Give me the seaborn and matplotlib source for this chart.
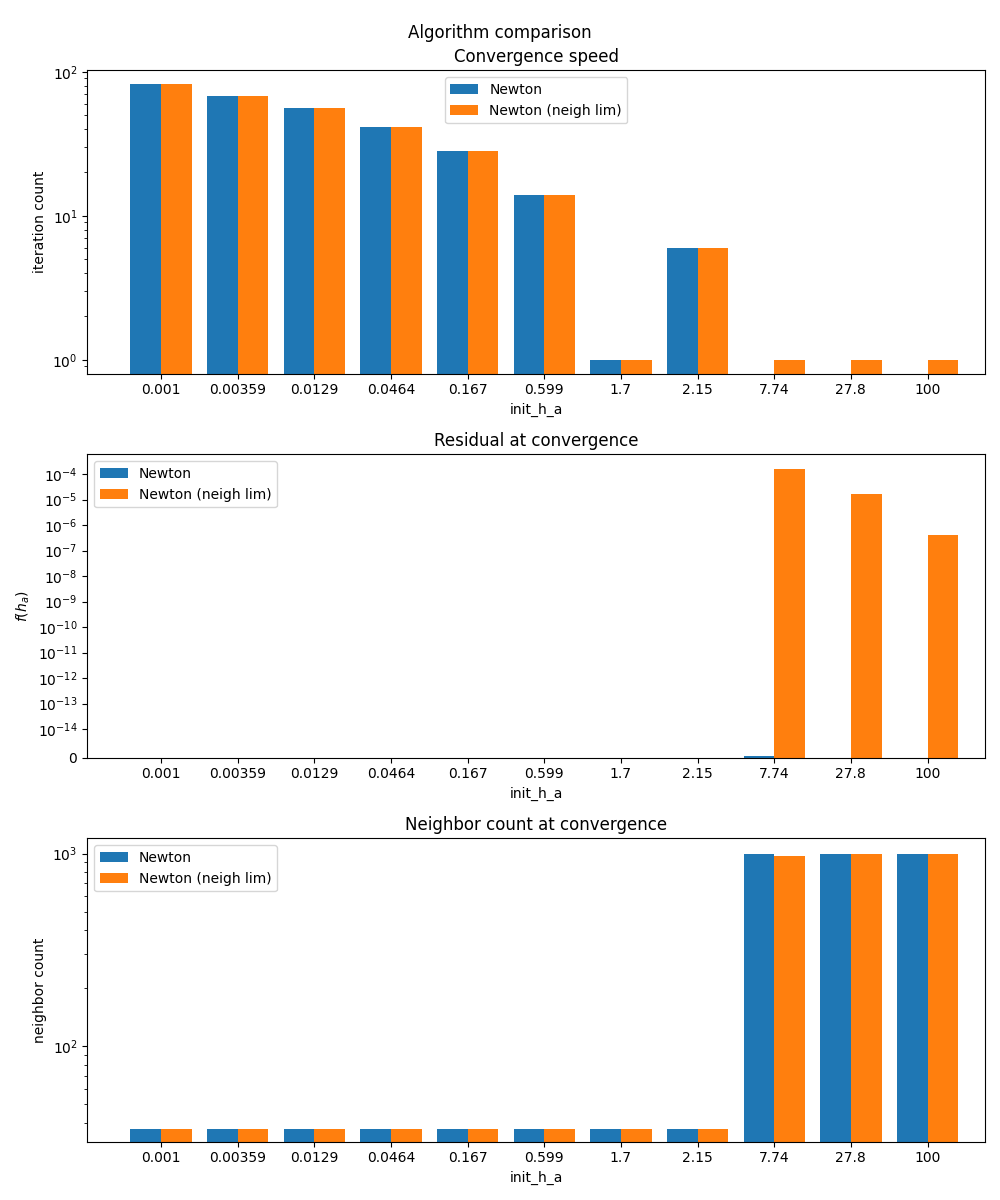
import pandas as pd
import seaborn as sns
import matplotlib.pyplot as plt

init_h_a = ['0.001', '0.00359', '0.0129', '0.0464', '0.167', '0.599', '1.7', '2.15', '7.74', '27.8', '100']
methods = ['Newton', 'Newton (neigh lim)']

iters_newton = [82, 68, 56, 41, 28, 14, 1, 6, 0, 0, 0]
iters_lim = [82, 68, 56, 41, 28, 14, 1, 6, 1, 1, 1]

resid_newton = [0, 0, 0, 0, 0, 0, 0, 0, 5e-16, 0, 0]
resid_lim = [0, 0, 0, 0, 0, 0, 0, 0, 1.6e-4, 1.6e-5, 4e-7]

neigh_newton = [37, 37, 37, 37, 37, 37, 37, 37, 1000, 1000, 1000]
neigh_lim = [37, 37, 37, 37, 37, 37, 37, 37, 975, 1000, 1000]


def long_df(a, b):
    return pd.DataFrame({
        'init_h_a': init_h_a * 2,
        'value': a + b,
        'method': [methods[0]] * len(a) + [methods[1]] * len(b),
    })


fig, axes = plt.subplots(3, 1, figsize=(10, 12))
fig.suptitle('Algorithm comparison')
pal = ['#1f77b4', '#ff7f0e']

ax = axes[0]
ax.set_yscale('log')
sns.barplot(long_df(iters_newton, iters_lim), x='init_h_a', y='value', hue='method',
            palette=pal, saturation=1, ax=ax)
ax.set_title('Convergence speed')
ax.set_ylabel('iteration count')
ax.legend(loc='upper center')

ax = axes[1]
ax.set_yscale('symlog', linthresh=1e-14)
sns.barplot(long_df(resid_newton, resid_lim), x='init_h_a', y='value', hue='method',
            palette=pal, saturation=1, ax=ax)
ax.set_yticks([0] + [10.0 ** e for e in range(-14, -3)])
ax.set_title('Residual at convergence')
ax.set_ylabel('$f(h_a)$')
ax.legend(loc='upper left')

ax = axes[2]
ax.set_yscale('log')
sns.barplot(long_df(neigh_newton, neigh_lim), x='init_h_a', y='value', hue='method',
            palette=pal, saturation=1, ax=ax)
ax.set_ylim(32, 1200)
ax.set_title('Neighbor count at convergence')
ax.set_ylabel('neighbor count')
ax.legend(loc='upper left')

for ax in axes:
    ax.set_xlabel('init_h_a')
    ax.set_xlim(-0.96, 10.75)

plt.tight_layout()
plt.savefig('out.png', dpi=100)
